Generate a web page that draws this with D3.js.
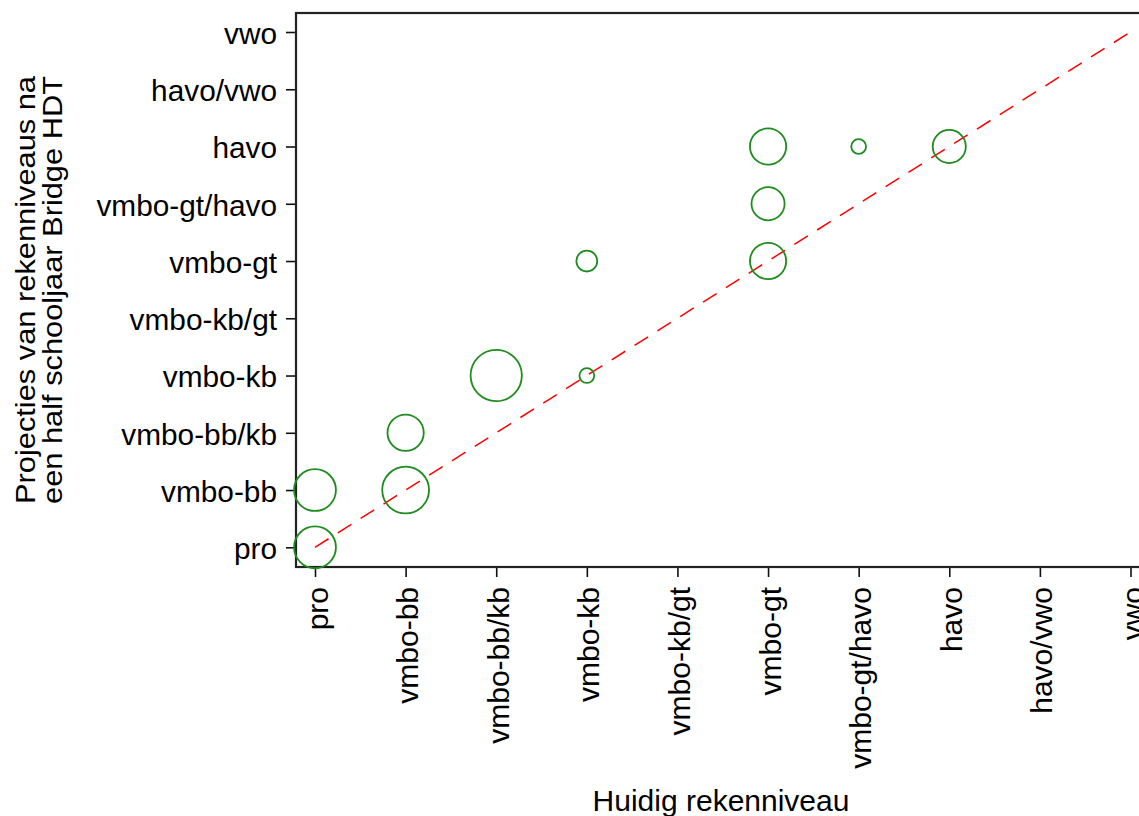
<!DOCTYPE html>
<html>
<head>
<meta charset="utf-8">
<script src="https://cdn.jsdelivr.net/npm/d3@7"></script>
<style>
  body { margin: 0; background: #fff; }
  svg { display: block; font-family: "Liberation Sans", Arial, sans-serif; }
</style>
</head>
<body>
<svg id="chart" width="1139" height="816"></svg>
<script>
// levels, used on both axes
var levels = ["pro", "vmbo-bb", "vmbo-bb/kb", "vmbo-kb", "vmbo-kb/gt",
              "vmbo-gt", "vmbo-gt/havo", "havo", "havo/vwo", "vwo"];

// bubbles: current level (x), projected level (y), number of pupils
var current   = ["pro", "pro", "vmbo-bb", "vmbo-bb", "vmbo-bb/kb", "vmbo-kb", "vmbo-kb",
                 "vmbo-gt", "vmbo-gt", "vmbo-gt", "vmbo-gt/havo", "havo"];
var projected = ["pro", "vmbo-bb", "vmbo-bb", "vmbo-bb/kb", "vmbo-kb", "vmbo-kb", "vmbo-gt",
                 "vmbo-gt", "vmbo-gt/havo", "havo", "havo", "havo"];
var counts    = [8, 8, 10, 6, 12, 1, 2, 6, 5, 6, 1, 5];

var svg = d3.select("#chart");

// plot box
var box = {left: 296, top: 13, right: 1146, bottom: 567};

var x = d3.scaleLinear().domain([0, levels.length - 1]).range([315, 1130.5]);
var y = d3.scaleLinear().domain([0, levels.length - 1]).range([547.3, 32]);
var r = d3.scaleSqrt().domain([0, 1]).range([0, 7.4]);

var idx = function(name){ return levels.indexOf(name); };

var points = counts.map(function(n, i){
  return {x: idx(current[i]), y: idx(projected[i]), n: n};
});

// y axis
var yAxis = svg.append("g")
  .attr("transform", "translate(" + box.left + ",0)")
  .call(d3.axisLeft(y)
    .tickValues(d3.range(levels.length))
    .tickFormat(function(d){ return levels[d]; })
    .tickSize(10).tickPadding(9).tickSizeOuter(0));
yAxis.select(".domain").remove();
yAxis.selectAll("line").attr("stroke", "#111").attr("stroke-width", 1.6);
yAxis.selectAll("text")
  .attr("dy", "0.38em")
  .attr("fill", "#000")
  .style("font-size", "29.8px");

// x axis with rotated labels
var xAxis = svg.append("g")
  .attr("transform", "translate(0," + box.bottom + ")")
  .call(d3.axisBottom(x)
    .tickValues(d3.range(levels.length))
    .tickFormat(function(d){ return levels[d]; })
    .tickSize(10).tickSizeOuter(0));
xAxis.select(".domain").remove();
xAxis.selectAll("line").attr("stroke", "#111").attr("stroke-width", 1.6);
xAxis.selectAll("text")
  .attr("transform", "rotate(-90)")
  .attr("x", -20)
  .attr("y", 0)
  .attr("dy", "0.4em")
  .attr("fill", "#000")
  .style("text-anchor", "end")
  .style("font-size", "30px");

// frame
svg.append("rect")
  .attr("x", box.left).attr("y", box.top)
  .attr("width", box.right - box.left).attr("height", box.bottom - box.top)
  .attr("fill", "none")
  .attr("stroke", "#222")
  .attr("stroke-width", 2.2);

// diagonal reference line
svg.append("line")
  .attr("x1", x(0)).attr("y1", y(0))
  .attr("x2", x(levels.length - 1)).attr("y2", y(levels.length - 1))
  .attr("stroke", "#ff0000")
  .attr("stroke-width", 1.5)
  .attr("stroke-dasharray", "16,11");

// bubbles
svg.append("g").selectAll("circle")
  .data(points)
  .enter().append("circle")
  .attr("cx", function(d){ return x(d.x); })
  .attr("cy", function(d){ return y(d.y); })
  .attr("r", function(d){ return r(d.n); })
  .attr("fill", "none")
  .attr("stroke", "#1e8c1e")
  .attr("stroke-width", 1.8);

// axis titles
var cy = (box.top + box.bottom) / 2;
svg.append("text")
  .attr("transform", "translate(35," + cy + ") rotate(-90)")
  .attr("text-anchor", "middle")
  .attr("textLength", 428).attr("lengthAdjust", "spacingAndGlyphs")
  .style("font-size", "27px")
  .text("Projecties van rekenniveaus na");
svg.append("text")
  .attr("transform", "translate(62," + cy + ") rotate(-90)")
  .attr("text-anchor", "middle")
  .attr("textLength", 428).attr("lengthAdjust", "spacingAndGlyphs")
  .style("font-size", "27px")
  .text("een half schooljaar Bridge HDT");

svg.append("text")
  .attr("x", (box.left + box.right) / 2)
  .attr("y", 811)
  .attr("text-anchor", "middle")
  .style("font-size", "30px")
  .text("Huidig rekenniveau");
</script>
</body>
</html>
